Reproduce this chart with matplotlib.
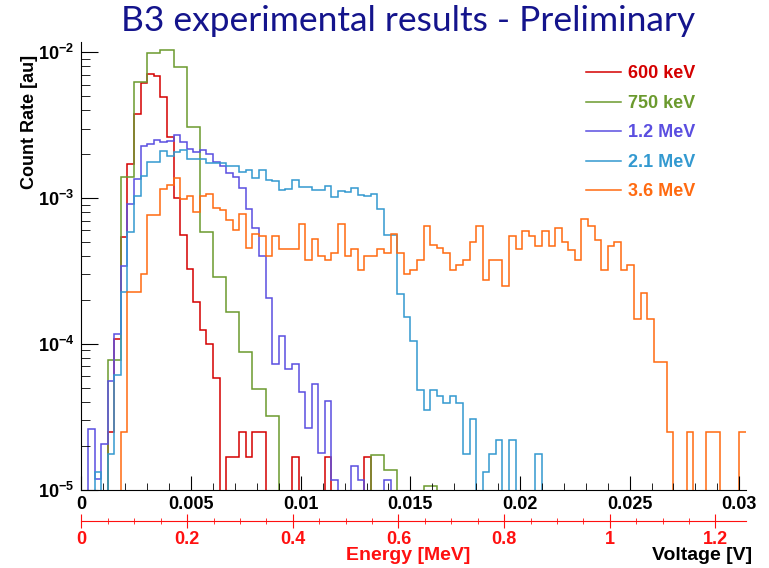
import numpy as np
import matplotlib
matplotlib.use("Agg")
import matplotlib.pyplot as plt
from matplotlib.lines import Line2D
from matplotlib.ticker import MultipleLocator, FixedLocator, FuncFormatter, LogLocator, NullFormatter

# histogram bin widths [V]
bin_width = 0.0003
bin_width_750 = 0.0006

# count rates [au] per bin (0 = empty bin)
rate_600keV = [0, 0, 0, 0, 2.49e-5, 1.08e-4, 5.38e-4, 1.72e-3, 3.76e-3, 6.14e-3,
               7.06e-3, 6.92e-3, 4.92e-3, 2.62e-3, 1.0e-3, 5.61e-4, 3.27e-4, 1.93e-4, 1.24e-4, 1.0e-4,
               5.85e-5, 0, 1.66e-5, 1.66e-5, 2.49e-5, 1.66e-5, 2.49e-5, 2.49e-5, 0, 0,
               0, 0, 1.66e-5, 0, 0, 0, 0, 1.66e-5, 0, 0,
               0, 0, 0, 1.66e-5, 0, 0, 0, 0, 0, 0]

rate_750keV = [0, 0, 7.69e-5, 1.39e-3, 6.24e-3, 9.95e-3, 1.03e-2, 7.89e-3, 3.08e-3, 5.82e-4,
               2.88e-4, 1.65e-4, 8.77e-5, 4.91e-5, 3.19e-5, 0, 0, 0, 0, 0,
               0, 0, 1.72e-5, 1.37e-5, 0, 0, 1.05e-5, 0, 0, 0]

rate_1_2MeV = [0, 2.62e-5, 1.18e-5, 2.06e-5, 5.53e-5, 1.17e-4, 3.44e-4, 9.16e-4, 1.35e-3, 2.27e-3,
               2.35e-3, 2.50e-3, 2.42e-3, 2.48e-3, 2.69e-3, 2.43e-3, 2.17e-3, 2.08e-3, 2.13e-3, 2.0e-3,
               1.78e-3, 1.66e-3, 1.49e-3, 1.39e-3, 1.17e-3, 8.45e-4, 6.19e-4, 4.03e-4, 2.07e-4, 7.29e-5,
               1.13e-4, 6.75e-5, 7.29e-5, 4.69e-5, 2.63e-5, 5.26e-5, 1.77e-5, 4.05e-5, 1.17e-5, 0,
               0, 1.45e-5, 1.17e-5, 0, 0, 0, 1.17e-5, 0, 0, 0]

rate_2_1MeV = [0, 0, 1.31e-5, 0, 1.74e-5, 6.14e-5, 2.26e-4, 5.85e-4, 1.04e-3, 1.41e-3,
               1.78e-3, 1.77e-3, 2.09e-3, 1.94e-3, 2.07e-3, 2.14e-3, 1.86e-3, 1.86e-3, 1.86e-3, 1.74e-3,
               1.74e-3, 1.74e-3, 1.67e-3, 1.67e-3, 1.51e-3, 1.55e-3, 1.38e-3, 1.55e-3, 1.33e-3, 1.30e-3,
               1.13e-3, 1.15e-3, 1.32e-3, 1.19e-3, 1.19e-3, 1.13e-3, 1.14e-3, 1.21e-3, 1.01e-3, 1.11e-3,
               1.10e-3, 1.18e-3, 1.05e-3, 1.03e-3, 1.06e-3, 8.45e-4, 5.57e-4, 5.57e-4, 2.20e-4, 1.52e-4,
               1.05e-4, 4.84e-5, 3.50e-5, 4.84e-5, 4.35e-5, 3.94e-5, 4.35e-5, 3.94e-5, 1.74e-5, 3.06e-5,
               0, 1.32e-5, 1.75e-5, 2.20e-5, 0, 2.20e-5, 0, 0, 0, 1.75e-5,
               0, 0, 0, 0, 0, 0, 0, 0, 0, 0]

rate_3_6MeV = [0, 0, 0, 0, 0, 0, 2.49e-5, 2.26e-4, 2.26e-4, 3.01e-4,
               7.69e-4, 7.69e-4, 1.16e-3, 1.22e-3, 1.37e-3, 9.84e-4, 1.04e-3, 8.02e-4, 1.04e-3, 1.06e-3,
               8.55e-4, 8.24e-4, 7.03e-4, 6.07e-4, 7.73e-4, 4.54e-4, 5.69e-4, 5.52e-4, 3.98e-4, 5.46e-4,
               4.50e-4, 4.50e-4, 4.50e-4, 6.67e-4, 3.74e-4, 5.24e-4, 3.98e-4, 3.74e-4, 4.20e-4, 6.67e-4,
               3.98e-4, 4.50e-4, 3.23e-4, 3.98e-4, 3.98e-4, 4.50e-4, 4.20e-4, 5.69e-4, 4.20e-4, 2.99e-4,
               3.23e-4, 3.74e-4, 6.46e-4, 4.73e-4, 4.52e-4, 4.20e-4, 3.23e-4, 3.49e-4, 3.74e-4, 4.97e-4,
               6.46e-4, 2.75e-4, 3.74e-4, 3.74e-4, 2.48e-4, 5.46e-4, 4.48e-4, 5.90e-4, 5.46e-4, 4.71e-4,
               5.90e-4, 4.71e-4, 6.22e-4, 5.00e-4, 4.43e-4, 3.74e-4, 7.18e-4, 6.46e-4, 5.18e-4, 3.23e-4,
               4.71e-4, 5.00e-4, 3.23e-4, 3.46e-4, 1.48e-4, 2.23e-4, 1.48e-4, 7.48e-5, 7.48e-5, 2.49e-5,
               0, 0, 2.49e-5, 0, 0, 2.49e-5, 2.49e-5, 0, 0, 0,
               2.49e-5]

labels = ["600 keV", "750 keV", "1.2 MeV", "2.1 MeV", "3.6 MeV"]
colors = ["#d40000", "#6b9a2e", "#5a4ee0", "#3399d0", "#ff6a10"]

energy_per_volt = 41.5  # MeV / V for the red energy scale
energy_ticks = [0, 0.2, 0.4, 0.6, 0.8, 1.0, 1.2]

plt.rcParams['font.family'] = ['Liberation Sans', 'DejaVu Sans']
plt.rcParams['font.weight'] = 'bold'
plt.rcParams['mathtext.fontset'] = 'custom'
plt.rcParams['mathtext.rm'] = 'Liberation Sans:bold'
plt.rcParams['mathtext.bf'] = 'Liberation Sans:bold'

fig = plt.figure(figsize=(7.69, 5.68), dpi=100)
ax = fig.add_axes([0.1059, 0.1382, 0.864, 0.7884])

all_rates = [rate_600keV, rate_750keV, rate_1_2MeV, rate_2_1MeV, rate_3_6MeV]
widths = [bin_width, bin_width_750, bin_width, bin_width, bin_width]
handles = []
for rates, w, col, lab in zip(all_rates, widths, colors, labels):
    rates = np.asarray(rates, dtype=float)
    edges = np.arange(len(rates) + 1) * w
    ax.stairs(np.where(rates > 0, rates, 1e-9), edges, baseline=None, color=col, lw=1.1)
    handles.append(Line2D([], [], color=col, lw=1.1, label=lab))

ax.set_yscale('log')
ax.set_xlim(0, 0.0303)
ax.set_ylim(1e-5, 0.01183)

ax.spines['top'].set_visible(False)
ax.spines['right'].set_visible(False)

ax.xaxis.set_major_locator(MultipleLocator(0.005))
ax.xaxis.set_minor_locator(MultipleLocator(0.001))
ax.xaxis.set_major_formatter(FuncFormatter(lambda v, p: f"{v:g}"))
ax.yaxis.set_major_locator(FixedLocator([1e-5, 1e-4, 1e-3, 1e-2]))
ax.yaxis.set_major_formatter(FuncFormatter(lambda v, p: r"$\mathbf{10^{%d}}$" % round(np.log10(v))))
ax.yaxis.set_minor_locator(LogLocator(base=10, subs=np.arange(2, 10)))
ax.yaxis.set_minor_formatter(NullFormatter())

ax.tick_params(which='both', direction='in', labelsize=13)
ax.tick_params(axis='x', which='major', length=10, pad=5)
ax.tick_params(axis='x', which='minor', length=5)
ax.tick_params(axis='y', which='major', length=12, pad=5)
ax.tick_params(axis='y', which='minor', length=6.5)

# red energy scale below the voltage axis
red = "#ff1010"
sec = ax.secondary_xaxis(-0.0703, functions=(lambda v: v * energy_per_volt,
                                             lambda e: e / energy_per_volt))
sec.spines['bottom'].set_color(red)
sec.xaxis.set_major_locator(FixedLocator(energy_ticks))
sec.xaxis.set_minor_locator(FixedLocator(np.arange(0.05, 1.24, 0.05)))
sec.xaxis.set_major_formatter(FuncFormatter(lambda v, p: f"{v:g}"))
sec.tick_params(which='both', direction='inout', colors=red, labelcolor=red, labelsize=13)
sec.tick_params(which='major', length=10, pad=2)
sec.tick_params(which='minor', length=5)

ax.legend(handles=handles, loc='upper left', bbox_to_anchor=(586 / 769, 1 - 65.5 / 568),
          bbox_transform=fig.transFigure, frameon=False, fontsize=13,
          handlelength=1.95, handletextpad=0.4, labelspacing=0.69,
          labelcolor='linecolor', borderpad=0, borderaxespad=0)

fig.text(408 / 769, 1 - 21 / 568, "B3 experimental results - Preliminary",
         family='Lato', weight='normal', fontsize=25.5, color='#14148c',
         ha='center', va='center')
fig.text(30 / 769, 1 - 122 / 568, "Count Rate [au]", rotation=90,
         fontsize=13, ha='center', va='center')
fig.text(408 / 769, 1 - 555 / 568, "Energy [MeV]", color=red,
         fontsize=14, ha='center', va='center')
fig.text(752 / 769, 1 - 555 / 568, "Voltage [V]",
         fontsize=14, ha='right', va='center')

fig.savefig("out.png", dpi=100)
